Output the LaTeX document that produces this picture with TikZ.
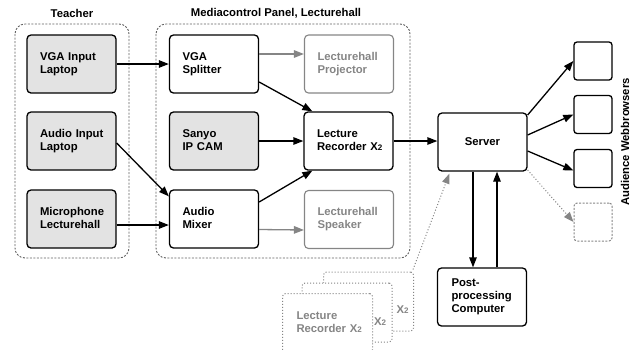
\documentclass[tikz,border=0pt]{standalone}
\usepackage{fontspec}
\setmainfont{Liberation Sans}
\usetikzlibrary{arrows.meta}
\definecolor{boxgray}{HTML}{E3E3E3}
\definecolor{ghost}{HTML}{858585}
\definecolor{grpline}{HTML}{606060}
\newcommand{\subtwo}{{\fontsize{8}{8}\selectfont 2}}
\newcommand{\mlines}[1]{\begin{tabular}{@{}l@{}}#1\end{tabular}}
\tikzset{
  every node/.style={font=\bfseries\fontsize{11.3}{13}\selectfont},
  unit/.style={draw, line width=1.3pt, rounded corners=4pt, minimum height=58pt,
    text width=63pt, inner xsep=13pt, align=left},
  fillunit/.style={unit, fill=boxgray},
  ghostunit/.style={unit, draw=ghost, text=ghost, line width=1.1pt},
  browser/.style={draw, line width=1.3pt, rounded corners=3pt, minimum width=38pt, minimum height=38pt, inner sep=0pt},
  ghostbrowser/.style={browser, draw=ghost, line width=1pt, dash pattern=on 2pt off 1.5pt},
  stackbox/.style={draw=ghost, fill=white, line width=1pt, dotted, rounded corners=3pt, minimum width=90pt, minimum height=59pt,
    text width=62pt, inner xsep=14pt, align=left, text=ghost},
  group/.style={draw=grpline, line width=0.9pt, dash pattern=on 2pt off 1.5pt, rounded corners=10pt},
  conn/.style={line width=1.3pt, -{Triangle[length=10pt,width=7.5pt]}},
  ghostconn/.style={conn, draw=ghost, -{Triangle[length=10pt,width=7.5pt,fill=ghost]}},
  dotconn/.style={line width=1pt, draw=ghost, dotted, -{Triangle[length=10pt,width=7.5pt,fill=ghost]}},
  title/.style={font=\bfseries\fontsize{11.3}{13}\selectfont}
}
\begin{document}
\begin{tikzpicture}[x=1pt,y=-1pt]
\useasboundingbox (0,0) rectangle (633,349);
\clip (0,0) rectangle (633,349);

% groups
\draw[group] (15,24) rectangle (129,258);
\draw[group] (156,24) rectangle (410,258);
\node[title] (tteach) at (72,13) {Teacher};
\node[title] (tmedia) at (276,13) {Mediacontrol Panel, Lecturehall};
\node[title, rotate=90] (taud) at (625,142) {Audience Webbrowsers};

% teacher
\node[fillunit] (vgain) at (71.5,64) {\mlines{VGA Input\\Laptop}};
\node[fillunit] (audioin) at (71.5,141) {\mlines{Audio Input\\Laptop}};
\node[fillunit] (mic) at (71.5,219) {\mlines{Microphone\\Lecturehall}};

% media control
\node[unit] (split) at (214,64) {\mlines{VGA\\Splitter}};
\node[fillunit] (cam) at (214,141) {\mlines{Sanyo\\IP CAM}};
\node[unit] (mixer) at (214,219) {\mlines{Audio\\Mixer}};
\node[ghostunit] (proj) at (349,64) {\mlines{Lecturehall\\Projector}};
\node[unit] (rec) at (348.5,141) {\mlines{Lecture\\Recorder X\subtwo}};
\node[ghostunit] (spk) at (349,219.5) {\mlines{Lecturehall\\Speaker}};

% server etc.
\node[unit, align=center] (server) at (482.5,142) {Server};
\node[unit, inner xsep=14pt, text width=61pt] (post) at (482,297) {\mlines{Post-\\processing\\Computer}};
\node[browser] (b1) at (593,61) {};
\node[browser] (b2) at (593,114.5) {};
\node[browser] (b3) at (593,168.5) {};
\node[ghostbrowser] (b4) at (593,222) {};

% stack of recorders
\node[stackbox] (back) at (368.5,301.5) {};
\node[stackbox] (mid) at (347,312.5) {};
\node[stackbox] (front) at (327.5,323) {\mlines{Lecture\\Recorder X\subtwo}};
\node[text=ghost] (x2b) at (402.5,310) {X\subtwo};
\node[text=ghost] (x2m) at (380,322) {X\subtwo};

% connectors
\draw[conn] (vgain.east) -- (split.west);
\draw[conn] ([yshift=-2pt]audioin.east) -- ([yshift=-7pt]mixer.north west);
\draw[conn] ([yshift=-6pt]mic.east) -- ([yshift=-6pt]mixer.west);
\draw[ghostconn] ([yshift=10pt]split.east) -- ([yshift=10pt]proj.west);
\draw[conn] ([yshift=-18pt]split.east) -- ([xshift=9pt]rec.north west);
\draw[conn] (cam.east) -- (rec.west);
\draw[conn] ([yshift=17pt]mixer.east) -- ([xshift=9pt]rec.south west);
\draw[ghostconn] ([yshift=-10.5pt]mixer.east) -- ([yshift=-10.5pt]spk.west);
\draw[conn] (rec.east) -- (server.west |- rec.east);
\draw[conn] ([yshift=27pt]server.east) -- (b1.west);
\draw[conn] ([yshift=7pt]server.east) -- (b2.west);
\draw[conn] ([yshift=-9pt]server.east) -- ([yshift=-2pt]b3.west);
\draw[dotconn] ([yshift=-28pt]server.east) -- (b4.west);
\draw[conn] ([xshift=-9.5pt]server.south) -- ([xshift=-9pt]post.north);
\draw[conn] ([xshift=15pt]post.north) -- ([xshift=14.5pt]server.south);
\draw[dotconn] ([shift={(-1pt,2pt)}]back.north east) -- ([xshift=12pt,yshift=-2pt]server.south west);
\end{tikzpicture}
\end{document}
